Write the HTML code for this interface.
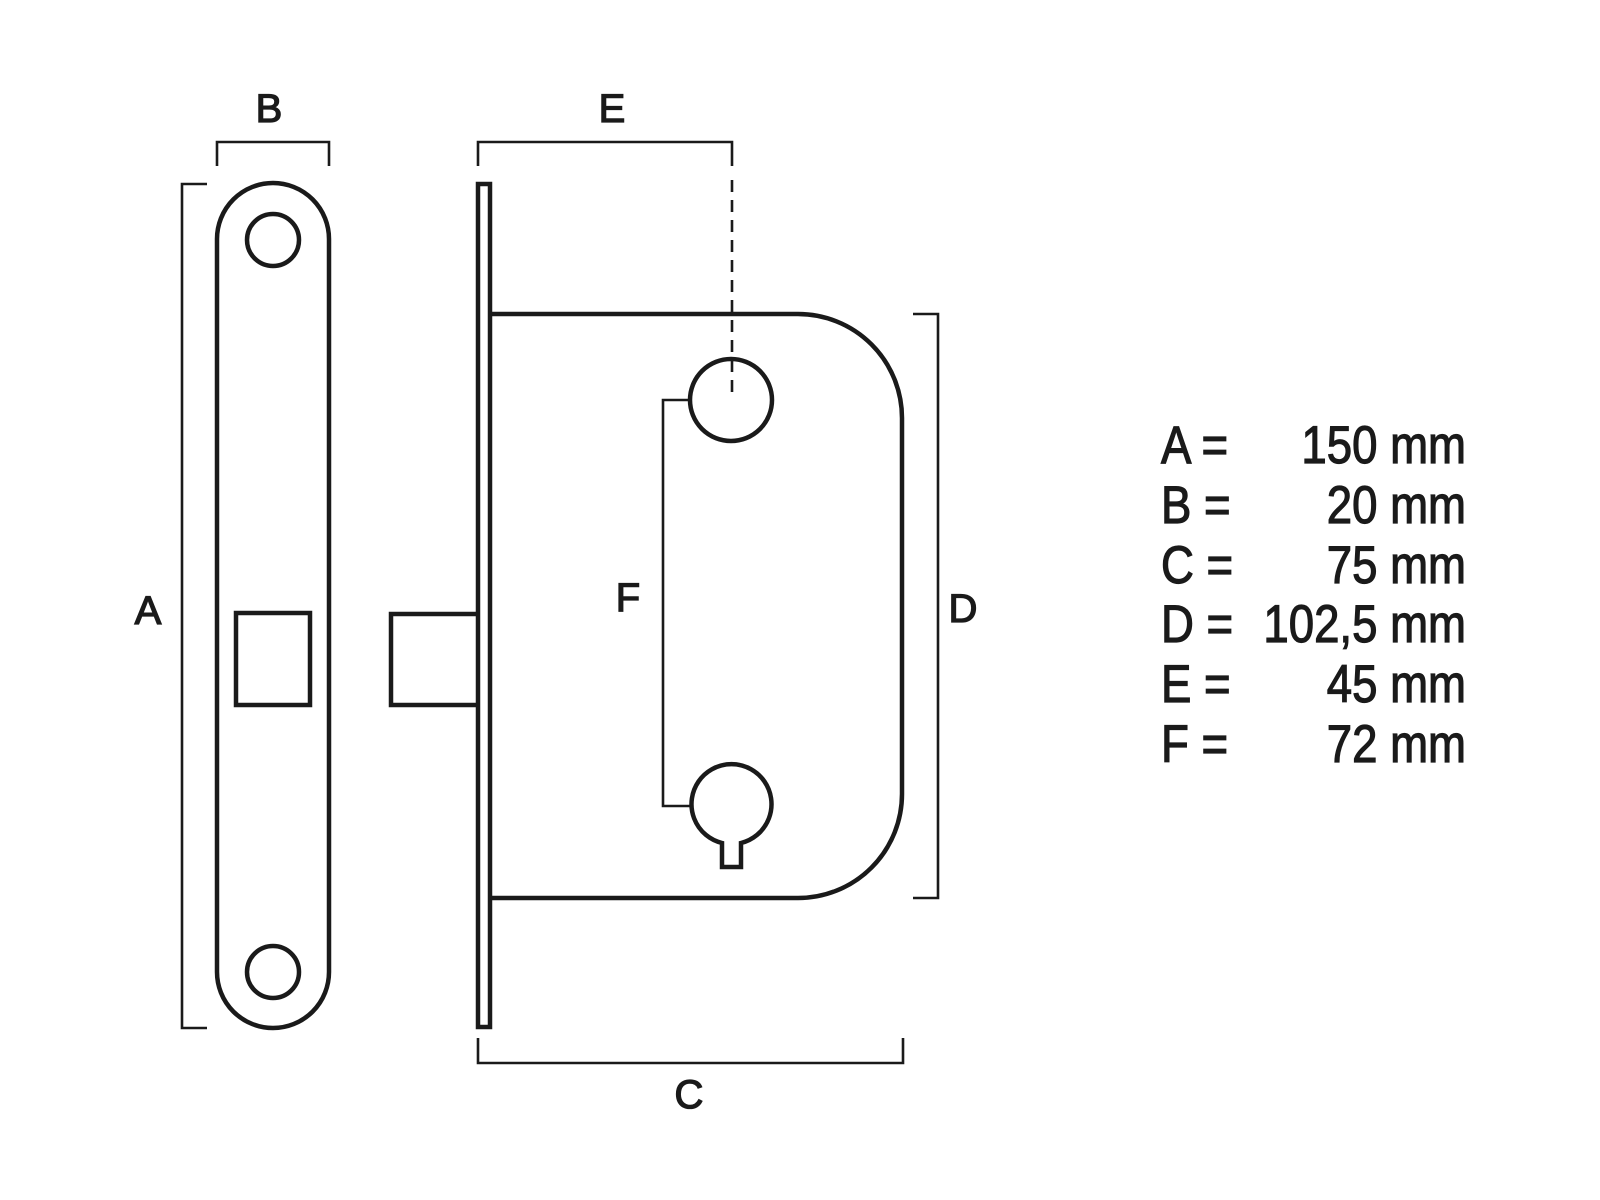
<!DOCTYPE html>
<html><head><style>
html,body{margin:0;padding:0;background:#fff;}
svg{display:block}
text{font-family:"Liberation Sans",sans-serif;fill:#1a1a1a;stroke:#1a1a1a;}
</style></head><body>
<svg width="1600" height="1200" viewBox="0 0 1600 1200" xmlns="http://www.w3.org/2000/svg">
<g fill="none" stroke="#1a1a1a" stroke-width="4.5">
  <rect x="217" y="183" width="112" height="845" rx="56" ry="56"/>
  <circle cx="273" cy="240" r="26"/>
  <circle cx="273" cy="972" r="26"/>
  <rect x="236" y="613" width="74" height="92"/>
  <rect x="478" y="184" width="12" height="843"/>
  <path d="M477 614 H391 V705 H477"/>
  <path d="M490 314 H798 A104 104 0 0 1 902 418 V794 A104 104 0 0 1 798 898 H490"/>
  <circle cx="731" cy="400" r="41"/>
  <path d="M722 843 A40 40 0 1 1 741 843 V867 H722 Z"/>
</g>
<g fill="none" stroke="#1a1a1a" stroke-width="2.6">
  <path d="M207 184 H182 V1028 H207"/>
  <path d="M217 166 V142 H329 V166"/>
  <path d="M478 166 V142 H732 V166"/>
  <path d="M732 180 V392" stroke-dasharray="12,8"/>
  <path d="M691 400 H663 V806 H691"/>
  <path d="M913 314 H938 V898 H913"/>
  <path d="M478 1038 V1063 H903 V1038"/>
</g>
<g font-size="40" text-anchor="middle" stroke-width="1.3">
  <text x="269" y="122">B</text>
  <text x="612" y="122">E</text>
  <text x="148" y="624">A</text>
  <text x="628" y="611">F</text>
  <text x="963" y="622">D</text>
  <text x="689" y="1108">C</text>
</g>
<g font-size="53" stroke-width="1.2">
  <g transform="translate(1161,0) scale(0.86,1)">
    <text x="0" y="463">A =</text>
    <text x="0" y="523">B =</text>
    <text x="0" y="583">C =</text>
    <text x="0" y="642">D =</text>
    <text x="0" y="702">E =</text>
    <text x="0" y="762">F =</text>
  </g>
  <g transform="translate(1466,0) scale(0.86,1)" text-anchor="end">
    <text x="0" y="463">150 mm</text>
    <text x="0" y="523">20 mm</text>
    <text x="0" y="583">75 mm</text>
    <text x="0" y="642">102,5 mm</text>
    <text x="0" y="702">45 mm</text>
    <text x="0" y="762">72 mm</text>
  </g>
</g>
</svg>
</body></html>
